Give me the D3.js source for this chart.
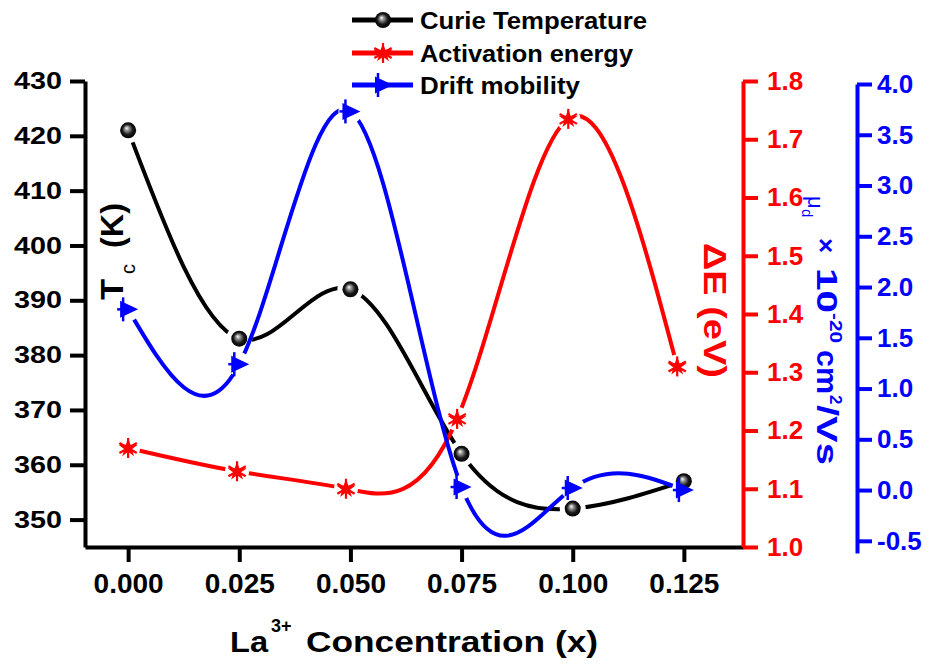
<!DOCTYPE html>
<html><head><meta charset="utf-8">
<script src="https://cdn.jsdelivr.net/npm/d3@7"></script>
<style>body{margin:0;background:#fff} svg{display:block} text{font-family:"Liberation Sans",Arial,sans-serif}</style>
</head><body><svg id="c" width="931" height="668"></svg>
<script>
// ---------- data ----------
const xValues = [0, 0.025, 0.05, 0.075, 0.1, 0.125];
const curieTemp = [421, 383, 392, 362, 352, 357];
const activationX = [0, 0.0245, 0.049, 0.074, 0.099, 0.1235];
const activationEnergy = [1.17, 1.13, 1.10, 1.22, 1.735, 1.31];
const driftMobility = [1.78, 1.24, 3.73, 0.03, 0.02, 0.0];
const xTicks = [0, 0.025, 0.05, 0.075, 0.1, 0.125];
const leftTicks = [350, 360, 370, 380, 390, 400, 410, 420, 430];
const redTicks = [1.0, 1.1, 1.2, 1.3, 1.4, 1.5, 1.6, 1.7, 1.8];
const blueTicks = [-0.5, 0.0, 0.5, 1.0, 1.5, 2.0, 2.5, 3.0, 3.5, 4.0];
const legendLabels = ["Curie Temperature", "Activation energy", "Drift mobility"];

const BLACK = "#000000", RED = "#ff0000", BLUE = "#0000ff";

const svg = d3.select("#c");
const defs = svg.append("defs");
const g = defs.append("radialGradient").attr("id", "ball")
  .attr("cx", 0.5).attr("cy", 0.5).attr("r", 0.5).attr("fx", 0.4).attr("fy", 0.35);
g.append("stop").attr("offset", 0).attr("stop-color", "#ffffff");
g.append("stop").attr("offset", 0.25).attr("stop-color", "#9a9a9a");
g.append("stop").attr("offset", 0.65).attr("stop-color", "#1a1a1a");
g.append("stop").attr("offset", 1).attr("stop-color", "#000000");

// ---------- scales ----------
const x = d3.scaleLinear().domain([-0.0097, 0.1383]).range([85, 743]);
const yL = d3.scaleLinear().domain([345, 430]).range([547, 81]);
const yR = d3.scaleLinear().domain([1.0, 1.8]).range([547, 81]);
const yB = d3.scaleLinear().domain([-0.62, 4.0]).range([553, 84]);

// ---------- markers ----------
function ball(sel, cx, cy) {
  sel.append("circle").attr("cx", cx).attr("cy", cy).attr("r", 8)
    .attr("fill", "url(#ball)");
}
const starPath = d3.symbol(d3.symbolStar).size(115)();
function star(sel, cx, cy) {
  const gg = sel.append("g").attr("transform", `translate(${cx},${cy})`);
  gg.append("path").attr("d", starPath).attr("fill", RED);
  [90, 30, -30].forEach(a => {
    const r = 10, t = a * Math.PI / 180;
    gg.append("line").attr("x1", -r * Math.cos(t)).attr("y1", -r * Math.sin(t))
      .attr("x2", r * Math.cos(t)).attr("y2", r * Math.sin(t))
      .attr("stroke", RED).attr("stroke-width", 2.2);
  });
}
function tri(sel, cx, cy) {
  const gg = sel.append("g").attr("transform", `translate(${cx},${cy})`);
  gg.append("path").attr("d", "M-8,-8.5L10,0L-8,8.5Z").attr("fill", BLUE);
  gg.append("line").attr("x1", -5).attr("y1", -12).attr("x2", -5).attr("y2", 12)
    .attr("stroke", BLUE).attr("stroke-width", 2.5);
  gg.append("line").attr("x1", -11).attr("y1", 0).attr("x2", -4).attr("y2", 0)
    .attr("stroke", BLUE).attr("stroke-width", 2.5);
}

// ---------- series ----------
const series = [
  {id: "cur", xs: xValues, ys: curieTemp, y: yL, color: BLACK, gap: 13, mark: ball},
  {id: "act", xs: activationX, ys: activationEnergy, y: yR, color: RED, gap: 12, mark: star},
  {id: "dri", xs: xValues, ys: driftMobility, y: yB, color: BLUE, gap: 12, mark: tri}
];

series.forEach(s => {
  const pts = s.xs.map((v, i) => [x(v), s.y(s.ys[i])]);
  const m = defs.append("mask").attr("id", "m-" + s.id).attr("maskUnits", "userSpaceOnUse")
    .attr("x", 0).attr("y", 0).attr("width", 931).attr("height", 668);
  m.append("rect").attr("width", 931).attr("height", 668).attr("fill", "#fff");
  pts.forEach(p => m.append("circle").attr("cx", p[0]).attr("cy", p[1]).attr("r", s.gap).attr("fill", "#000"));
  const line = d3.line().curve(d3.curveNatural);
  svg.append("path").attr("d", line(pts)).attr("fill", "none")
    .attr("stroke", s.color).attr("stroke-width", 4).attr("mask", `url(#m-${s.id})`);
  s.pts = pts;
});
series.forEach(s => s.pts.forEach(p => s.mark(svg, p[0], p[1])));

// ---------- axes ----------
function styleAxis(ax, color, fontSize) {
  ax.select(".domain").attr("stroke", color).attr("stroke-width", 4);
  ax.selectAll(".tick line").attr("stroke", color).attr("stroke-width", 4);
  ax.selectAll(".tick text").attr("fill", color).attr("font-size", fontSize)
    .attr("font-weight", "bold").attr("font-family", '"Liberation Sans",Arial,sans-serif');
}
const axL = svg.append("g").attr("transform", "translate(85,0)")
  .call(d3.axisLeft(yL).tickValues(leftTicks).tickSize(15).tickSizeOuter(0).tickPadding(8).tickFormat(d3.format("d")));
styleAxis(axL, BLACK, 24);
axL.selectAll(".tick text").attr("textLength", 48).attr("lengthAdjust", "spacingAndGlyphs");

const axB = svg.append("g").attr("transform", "translate(0,547)")
  .call(d3.axisBottom(x).tickValues(xTicks).tickSize(15).tickSizeOuter(0).tickPadding(11).tickFormat(d => d.toFixed(3)));
styleAxis(axB, BLACK, 28);

const axR = svg.append("g").attr("transform", "translate(743,0)")
  .call(d3.axisRight(yR).tickValues(redTicks).tickSize(15).tickSizeOuter(0).tickPadding(9).tickFormat(d => d.toFixed(1)));
styleAxis(axR, RED, 26);

const axBl = svg.append("g").attr("transform", "translate(857,0)")
  .call(d3.axisRight(yB).tickValues(blueTicks).tickSize(15).tickSizeOuter(0).tickPadding(5).tickFormat(d => d.toFixed(1)));
styleAxis(axBl, BLUE, 26);

// ---------- axis titles ----------
const tl = svg.append("g").attr("transform", "translate(123,0) rotate(-90)");
tl.append("text").attr("x", -300).attr("y", 0).attr("font-size", 32).attr("font-weight", "bold")
  .attr("textLength", 21).attr("lengthAdjust", "spacingAndGlyphs").text("T");
tl.append("text").attr("x", -274).attr("y", 12).attr("font-size", 20).text("c");
tl.append("text").attr("x", -248).attr("y", 0).attr("font-size", 32).attr("font-weight", "bold")
  .attr("textLength", 45).attr("lengthAdjust", "spacingAndGlyphs").text("(K)");

const tr = svg.append("g").attr("transform", "translate(704,0) rotate(90)");
tr.append("text").attr("x", 243).attr("y", 0).attr("font-size", 32).attr("font-weight", "bold")
  .attr("fill", RED).attr("textLength", 135).attr("lengthAdjust", "spacingAndGlyphs").text("ΔE (eV)");

const tb = svg.append("g").attr("transform", "translate(817,0) rotate(90)").attr("fill", BLUE);
tb.append("text").attr("x", 196).attr("y", 9).attr("font-size", 22).text("μ");
tb.append("text").attr("x", 209).attr("y", 15).attr("font-size", 15).text("d");
tb.append("text").attr("x", 238).attr("y", 0).attr("font-size", 26).attr("font-weight", "bold").text("×");
tb.append("text").attr("x", 268).attr("y", 0).attr("font-size", 29).attr("font-weight", "bold")
  .attr("textLength", 45).attr("lengthAdjust", "spacingAndGlyphs").text("10");
tb.append("text").attr("x", 313).attr("y", -13).attr("font-size", 17).attr("font-weight", "bold")
  .attr("textLength", 30).attr("lengthAdjust", "spacingAndGlyphs").text("-20");
tb.append("text").attr("x", 350).attr("y", 0).attr("font-size", 29).attr("font-weight", "bold")
  .attr("textLength", 44).attr("lengthAdjust", "spacingAndGlyphs").text("cm");
tb.append("text").attr("x", 395).attr("y", -13).attr("font-size", 17).attr("font-weight", "bold").text("2");
tb.append("text").attr("x", 405).attr("y", 0).attr("font-size", 29).attr("font-weight", "bold")
  .attr("textLength", 60).attr("lengthAdjust", "spacingAndGlyphs").text("/Vs");

// x title
svg.append("text").attr("x", 230).attr("y", 652).attr("font-size", 29).attr("font-weight", "bold")
  .attr("textLength", 38).attr("lengthAdjust", "spacingAndGlyphs").text("La");
svg.append("text").attr("x", 271).attr("y", 632).attr("font-size", 18).attr("font-weight", "bold").text("3+");
svg.append("text").attr("x", 306).attr("y", 652).attr("font-size", 29).attr("font-weight", "bold")
  .attr("textLength", 292).attr("lengthAdjust", "spacingAndGlyphs").text("Concentration (x)");

// ---------- legend ----------
const legendY = [20, 53, 85];
const legendW = [227, 213, 160];
series.forEach((s, i) => {
  svg.append("line").attr("x1", 352).attr("x2", 413).attr("y1", legendY[i]).attr("y2", legendY[i])
    .attr("stroke", s.color).attr("stroke-width", 5);
  s.mark(svg, 383, legendY[i]);
  svg.append("text").attr("x", 420).attr("y", legendY[i] + 8.5).attr("font-size", 23)
    .attr("font-weight", "bold").attr("textLength", legendW[i]).attr("lengthAdjust", "spacingAndGlyphs")
    .text(legendLabels[i]);
});
</script></body></html>
